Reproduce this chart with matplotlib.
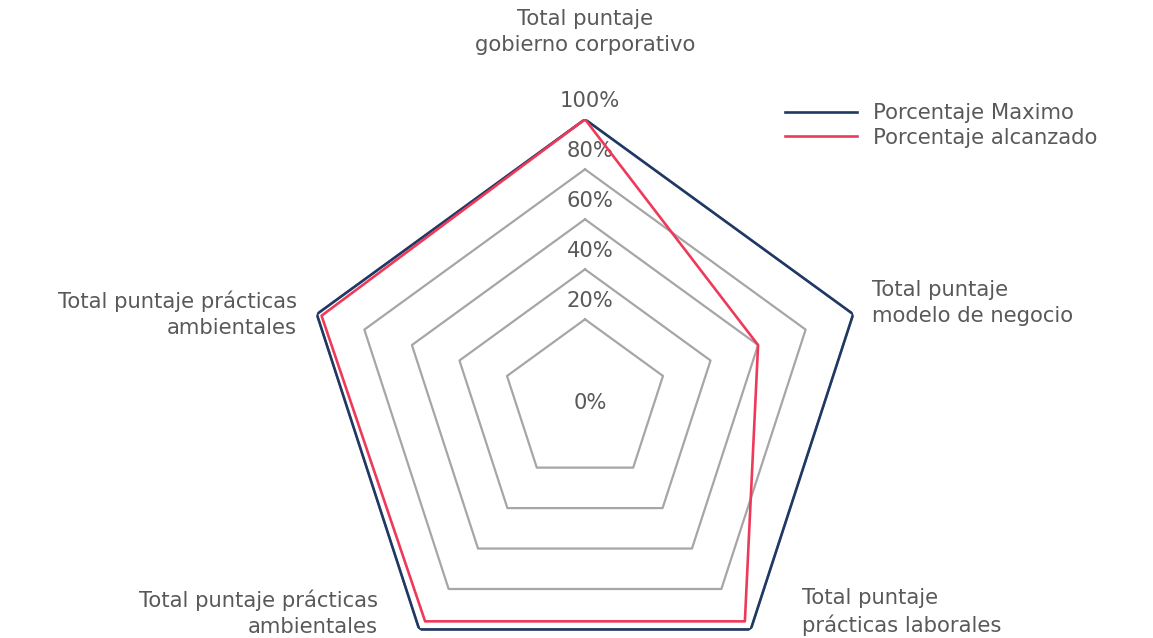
import numpy as np
import matplotlib
matplotlib.use("Agg")
import matplotlib.pyplot as plt

# radar: Porcentaje Maximo vs Porcentaje alcanzado
categorias = ["Total puntaje\ngobierno corporativo",
              "Total puntaje\nmodelo de negocio",
              "Total puntaje\nprácticas laborales",
              "Total puntaje prácticas\nambientales",
              "Total puntaje prácticas\nambientales"]
maximo = [100, 100, 100, 100, 100]
alcanzado = [100, 60, 96, 96, 98]
niveles = [20, 40, 60, 80, 100]
etiquetas_niveles = ["20%", "40%", "60%", "80%", "100%"]

GRIS_TXT = "#595959"
GRIS_GRID = "#A6A6A6"
AZUL = "#1F3864"
ROJO = "#EE3A5A"
FS = 15.2

plt.rcParams['font.family'] = ['DejaVu Sans']

W, H = 1153, 638
fig = plt.figure(figsize=(W / 100, H / 100), dpi=100)
cx, cy, R = 585, 638 - 401.3, 282
ax = fig.add_axes([(cx - R) / W, (cy - R) / H, 2 * R / W, 2 * R / H], projection='polar')
ax.set_theta_offset(np.pi / 2)
ax.set_theta_direction(-1)
ax.set_ylim(0, 100)
ax.set_rorigin(-12.8)
ax.grid(False)
ax.set_xticks([])
ax.set_yticks([])
for s in ax.spines.values():
    s.set_visible(False)
    s.set_linewidth(0)
    s.set_edgecolor('none')
ax.patch.set_visible(False)

n = len(categorias)
ang = np.linspace(0, 2 * np.pi, n, endpoint=False)
ang_c = np.append(ang, ang[0])

for v in niveles:
    ax.plot(ang_c, [v] * (n + 1), color=GRIS_GRID, lw=1.6, zorder=1)

l1, = ax.plot(ang_c, maximo + maximo[:1], color=AZUL, lw=1.9, zorder=3, label="Porcentaje Maximo")
l2, = ax.plot(ang_c, alcanzado + alcanzado[:1], color=ROJO, lw=1.9, zorder=4, label="Porcentaje alcanzado")

# niveles
for v, t in zip(niveles, etiquetas_niveles):
    ax.annotate(t, xy=(0, v), xytext=(5, 18), textcoords='offset pixels',
                ha='center', va='center', fontsize=FS, color=GRIS_TXT, annotation_clip=False)
ax.annotate("0%", xy=(0.5, 0.5), xycoords='axes fraction', xytext=(5, -2),
            textcoords='offset pixels', ha='center', va='center', fontsize=FS, color=GRIS_TXT)

# etiquetas de categorias
offs = [(0, 87, 'center'), (19, 11, 'left'), (51, 17.5, 'left'), (-41, 16, 'right'), (-20, 0, 'right')]
for a, lab, (dx, dy, ha) in zip(ang, categorias, offs):
    ax.annotate(lab, xy=(a, 100), xytext=(dx, dy), textcoords='offset pixels',
                ha=ha, va='center', fontsize=FS, color=GRIS_TXT, linespacing=1.38,
                multialignment=ha, annotation_clip=False)

leg = fig.legend(handles=[l1, l2], loc='upper left', bbox_to_anchor=(785 / W, 1 - 103 / H),
                 frameon=False, fontsize=FS, handlelength=3.4, handletextpad=0.78,
                 labelspacing=0.22, borderpad=0, borderaxespad=0)
for t in leg.get_texts():
    t.set_color(GRIS_TXT)

fig.savefig("out.png", dpi=100)
